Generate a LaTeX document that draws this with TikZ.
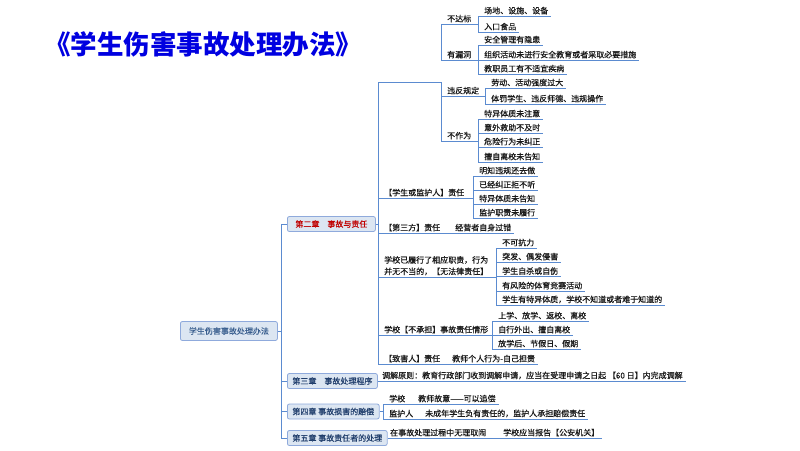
\documentclass[tikz,border=0pt]{standalone}
\usepackage{fontspec}
\newfontfamily\cjk{Noto Sans CJK SC}[FakeBold=0.6]
\newfontfamily\cjkt{Noto Sans CJK SC}
\definecolor{lnc}{HTML}{5B8BD0}
\definecolor{boxf}{HTML}{DCE6F2}
\definecolor{boxd}{HTML}{8FAADC}
\definecolor{navy}{HTML}{1F3D6B}
\definecolor{rootc}{HTML}{3A5F8F}
\definecolor{titleblue}{HTML}{0000E0}
\definecolor{chred}{HTML}{C00000}
\newcommand\leaffont{\cjk\fontsize{8}{11.5}\selectfont}
\begin{document}
\begin{tikzpicture}[x=1pt,y=-1pt,
 ln/.style={draw=lnc,line width=0.8pt},
 leaf/.style={anchor=south west,inner xsep=3pt,inner ysep=1.5pt,font=\leaffont,text=black!90},
 box/.style={draw=boxd,fill=boxf,rounded corners=2pt,line width=0.8pt,anchor=west,inner xsep=5pt,inner ysep=0pt,minimum height=15pt,font=\leaffont,text=navy}]
\fill[white] (0,0) rectangle (800,450);
\useasboundingbox (0,0) rectangle (800,450);

% title
\node[anchor=west,inner sep=0pt,font=\cjkt\bfseries\fontsize{26.5}{26.5}\selectfont,text=titleblue] (title) at (44,44) {《学生伤害事故处理办法》};

% root and chapters
\node[box,minimum width=97pt,minimum height=19pt,text=rootc] (root) at (180,331) {学生伤害事故处理办法};
\node[box,minimum width=88pt,text=chred] (ch2) at (287,224) {第二章　事故与责任};
\node[box] (ch3) at (287,381) {第三章　事故处理程序};
\node[box] (ch4) at (287,411.5) {第四章 事故损害的赔偿};
\node[box] (ch5) at (287,438) {第五章 事故责任者的处理};

% helper coordinates (vertical connector positions)
\coordinate (xr) at (281,0);
\coordinate (xc2) at (378,0);
\coordinate (xa) at (441,0);
\coordinate (xa1) at (478,0);
\coordinate (hid) at (441,82);
\coordinate (xb1) at (485,0);
\coordinate (xs1) at (473,0);
\coordinate (xs3) at (496,0);
\coordinate (xs4) at (492,0);
\coordinate (xu) at (383,0);

% upper group
\node[leaf] (a1) at (444,24) {不达标};
\node[leaf] (a11) at (481,16) {场地、设施、设备};
\node[leaf] (a12) at (481,32) {入口食品};
\node[leaf] (a2) at (444,60) {有漏洞};
\node[leaf] (a21) at (481,45) {安全管理有隐患};
\node[leaf] (a22) at (481,60) {组织活动未进行安全教育或者采取必要措施};
\node[leaf] (a23) at (481,74) {教职员工有不适宜疾病};
\node[leaf] (b1) at (444,96) {违反规定};
\node[leaf] (b11) at (488,88) {劳动、活动强度过大};
\node[leaf] (b12) at (488,104) {体罚学生、违反师德、违规操作};
\node[leaf] (b2) at (444,141) {不作为};
\node[leaf] (b21) at (481,119) {特异体质未注意};
\node[leaf] (b22) at (481,133) {意外救助不及时};
\node[leaf] (b23) at (481,147) {危险行为未纠正};
\node[leaf] (b24) at (481,162) {擅自离校未告知};

% chapter 2 children
\node[leaf] (s1) at (381,198) {【学生或监护人】责任};
\node[leaf] (s11) at (476,176) {明知违规还去做};
\node[leaf] (s12) at (476,190) {已经纠正拒不听};
\node[leaf] (s13) at (476,204) {特异体质未告知};
\node[leaf] (s14) at (476,218) {监护职责未履行};
\node[leaf] (s2) at (381,233) {【第三方】责任};
\node[leaf] (s21) at (452,233) {经营者自身过错};
\node[leaf,align=left] (s3) at (381,277) {学校已履行了相应职责，行为\\并无不当的，【无法律责任】};
\node[leaf] (s31) at (499,248) {不可抗力};
\node[leaf] (s32) at (499,262) {突发、偶发侵害};
\node[leaf] (s33) at (499,276.5) {学生自杀或自伤};
\node[leaf] (s34) at (499,291) {有风险的体育竞赛活动};
\node[leaf] (s35) at (499,305) {学生有特异体质，学校不知道或者难于知道的};
\node[leaf] (s4) at (381,335) {学校【不承担】事故责任情形};
\node[leaf] (s41) at (495,321) {上学、放学、返校、离校};
\node[leaf] (s42) at (495,335) {自行外出、擅自离校};
\node[leaf] (s43) at (495,349) {放学后、节假日、假期};
\node[leaf] (s5) at (381,364) {【致害人】责任};
\node[leaf] (s51) at (449,364) {教师个人行为-自己担责};

% chapters 3-5 children
\node[leaf] (t1) at (379,381) {调解原则：教育行政部门收到调解申请，应当在受理申请之日起 【60 日】内完成调解};
\node[leaf] (u1) at (386,404) {学校};
\node[leaf] (u11) at (415,404) {教师故意——可以追偿};
\node[leaf] (u2) at (386,419) {监护人};
\node[leaf] (u21) at (422,419) {未成年学生负有责任的，监护人承担赔偿责任};
\node[leaf] (w1) at (387,438) {在事故处理过程中无理取闹};
\node[leaf] (w2) at (500,438) {学校应当报告【公安机关】};

% connectors: root
\draw[ln] (root.east) -- (root.east -| xr);
\draw[ln] (xr |- ch2.west) -- (xr |- ch5.west);
\foreach \k in {ch2,ch3,ch4,ch5} \draw[ln] (xr |- \k.west) -- (\k.west);

% chapter 2 spine
\draw[ln] (ch2.east) -- (ch2.east -| xc2);
\draw[ln] (xc2 |- hid) -- (xc2 |- s5.south);
\draw[ln] (xc2 |- hid) -- (hid) -- (hid |- b2.south);

% upper group
\draw[ln] (xa |- a1.south) -- (xa |- a2.south);
\draw[ln] (xa |- a1.south) -- (xa1 |- a1.south);
\draw[ln] (xa |- a2.south) -- (xa1 |- a2.south);
\draw[ln] (xa1 |- a11.south) -- (xa1 |- a12.south);
\draw[ln] (xa1 |- a21.south) -- (xa1 |- a23.south);
\foreach \k in {a11,a12,a21,a22,a23,b21,b22,b23,b24} \draw[ln] (xa1 |- \k.south) -- (\k.south east);
\draw[ln] (hid |- b1.south) -- (xb1 |- b1.south);
\draw[ln] (hid |- b2.south) -- (xa1 |- b2.south);
\draw[ln] (xb1 |- b11.south) -- (xb1 |- b12.south);
\foreach \k in {b11,b12} \draw[ln] (xb1 |- \k.south) -- (\k.south east);
\draw[ln] (xa1 |- b21.south) -- (xa1 |- b24.south);

% 学生或监护人
\draw[ln] (xc2 |- s1.south) -- (xs1 |- s1.south);
\draw[ln] (xs1 |- s11.south) -- (xs1 |- s14.south);
\foreach \k in {s11,s12,s13,s14} \draw[ln] (xs1 |- \k.south) -- (\k.south east);
% 第三方
\draw[ln] (xc2 |- s2.south) -- (s21.south east);
% 无法律责任
\draw[ln] (xc2 |- s3.south) -- (xs3 |- s3.south);
\draw[ln] (xs3 |- s31.south) -- (xs3 |- s35.south);
\foreach \k in {s31,s32,s33,s34,s35} \draw[ln] (xs3 |- \k.south) -- (\k.south east);
% 不承担
\draw[ln] (xc2 |- s4.south) -- (xs4 |- s4.south);
\draw[ln] (xs4 |- s41.south) -- (xs4 |- s43.south);
\foreach \k in {s41,s42,s43} \draw[ln] (xs4 |- \k.south) -- (\k.south east);
% 致害人
\draw[ln] (xc2 |- s5.south) -- (s51.south east);

% chapter 3
\draw[ln] (ch3.east) -- (t1.south east);
% chapter 4
\draw[ln] (ch4.east) -- (ch4.east -| xu);
\draw[ln] (xu |- u1.south) -- (xu |- u2.south);
\draw[ln] (xu |- u1.south) -- (u11.south east);
\draw[ln] (xu |- u2.south) -- (u21.south east);
% chapter 5
\draw[ln] (ch5.east) -- (w2.south east);
\end{tikzpicture}
\end{document}
